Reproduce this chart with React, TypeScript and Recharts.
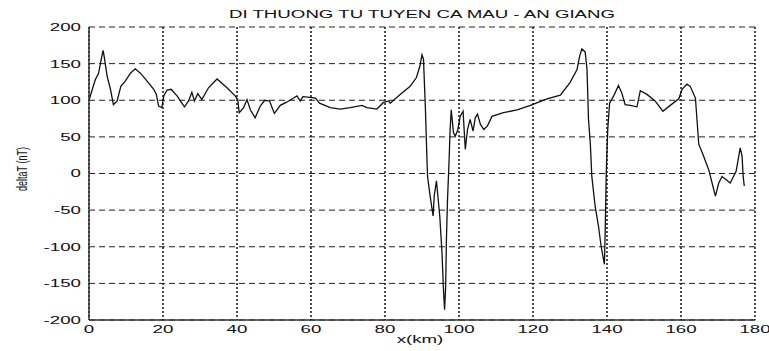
import React from "react";
import { LineChart, Line, XAxis, YAxis, CartesianGrid } from "recharts";

const xKm = [
  0, 0.9, 1.7, 2.6, 3.2, 3.8, 4.1, 4.9, 5.8, 6.6, 7.6, 8.6, 9.8, 11.2, 12.5, 13.9, 15.7, 17.5, 18.2, 18.8,
  19.7, 20.2, 21.1, 22.2, 23.8, 25.8, 26.9, 27.8, 28.5, 29.4, 30.5, 32.3, 34.6, 37.3, 39.5, 40.2, 40.6, 41.8,
  42.7, 43.6, 44.9, 46.3, 47.5, 48.8, 50.1, 51.7, 53.3, 55.3, 56.2, 57.1, 57.8, 59.8, 61.2, 62.3, 65.2, 67.9,
  70.6, 73.8, 75.1, 77.8, 79.6, 81.0, 81.4, 84.1, 86.8, 88.5, 89.4, 90.0, 90.4, 90.9, 91.2, 91.5, 92.2, 93.0,
  93.3, 93.9, 94.3, 94.8, 95.4, 95.8, 96.1, 96.4, 96.6, 96.9, 97.3, 97.6, 97.9, 98.5, 99.0, 99.7, 100.3, 101.1,
  101.7, 102.3, 103.0, 103.8, 104.4, 105.0, 105.8, 106.7, 107.7, 108.9, 112.0, 115.7, 119.3, 123.8, 127.4,
  130.0, 131.9, 132.6, 133.2, 134.1, 134.6, 135.0, 135.5, 135.9, 136.8, 137.7, 138.4, 138.9, 139.3, 139.5,
  139.8, 140.2, 140.7, 141.8, 143.1, 144.0, 144.9, 146.3, 148.1, 149.0, 150.8, 153.0, 155.1, 157.1, 159.4,
  160.3, 161.6, 162.5, 163.9, 164.8, 166.1, 167.5, 168.4, 169.3, 170.2, 171.1, 173.3, 174.9, 176.0, 176.5,
  176.8, 177.1,
];

const deltaT = [
  100, 115, 128, 137, 153, 168, 160, 133, 115, 94, 99, 119, 126, 137, 143, 137, 126, 115, 108, 92,
  90, 106, 114, 115, 106, 91, 99, 111, 99, 109, 101, 117, 129, 117, 106, 101, 83, 90,
  101, 87, 76, 92, 100, 99, 82, 93, 97, 103, 106, 99, 105, 104, 103, 96, 90, 88,
  90, 93, 90, 88, 97, 99, 96, 108, 119, 131, 146, 162, 156, 92, 42, -4, -31, -58,
  -31, -10, -31, -58, -108, -158, -186, -154, -90, -35, 15, 60, 87, 56, 51, 60, 78, 85,
  33, 60, 74, 58, 76, 81, 67, 60, 65, 78, 83, 87, 93, 102, 107,
  124, 142, 160, 170, 166, 142, 74, 40, -4, -45, -72, -99, -113, -124, -81,
  1, 60, 96, 106, 120, 110, 94, 93, 91, 113, 108, 99, 85, 93, 102,
  115, 122, 119, 103, 40, 24, 5, -13, -31, -13, -4, -13, 3, 35, 24,
  -4, -17,
];

const xTicks = [0, 20, 40, 60, 80, 100, 120, 140, 160, 180];
const yTicks = [-200, -150, -100, -50, 0, 50, 100, 150, 200];

const titleText = "DI THUONG TU TUYEN CA MAU - AN GIANG";
const xLabelText = "x(km)";
const yLabelText = "deltaT (nT)";

const data = xKm.map((x, i) => ({ x, v: deltaT[i] }));

const FONT = "'Liberation Sans', Arial, sans-serif";
const SX = 1.7;

const XTick = (props: any) => {
  const { x, y, payload } = props;
  return (
    <g transform={`translate(${x},${y}) scale(${SX},1)`}>
      <text x={0} y={0} dy="0.71em" textAnchor="middle" fontSize={11} fontFamily={FONT} fill="#111">
        {payload.value}
      </text>
    </g>
  );
};

const YTick = (props: any) => {
  const { x, y, payload } = props;
  return (
    <g transform={`translate(${x},${y}) scale(${SX},1)`}>
      <text x={0} y={0} dy="0.36em" textAnchor="end" fontSize={11} fontFamily={FONT} fill="#111">
        {payload.value}
      </text>
    </g>
  );
};

export default function App() {
  return (
    <div style={{ position: "absolute", left: 0, top: 0, width: 769, height: 351, background: "#fff" }}>
      <LineChart
        width={769}
        height={351}
        data={data}
        margin={{ top: 27, right: 14, left: 29, bottom: 11 }}
      >
        <CartesianGrid
          horizontal={true}
          vertical={false}
          stroke="#222"
          strokeDasharray="6 4"
          strokeWidth={1}
          xAxisId="b"
          yAxisId="l"
        />
        <CartesianGrid
          horizontal={false}
          vertical={true}
          stroke="#222"
          strokeDasharray="2 2"
          strokeWidth={1.6}
          xAxisId="b"
          yAxisId="l"
        />
        <XAxis
          xAxisId="b"
          dataKey="x"
          type="number"
          domain={[0, 180]}
          ticks={xTicks}
          interval={0}
          allowDataOverflow
          height={20}
          tickSize={0}
          tickMargin={5}
          tick={<XTick />}
          axisLine={{ stroke: "#333", strokeWidth: 1.5 }}
        />
        <XAxis
          xAxisId="t"
          orientation="top"
          dataKey="x"
          type="number"
          domain={[0, 180]}
          height={0}
          tick={false}
          tickLine={false}
          axisLine={{ stroke: "#444", strokeWidth: 1 }}
        />
        <YAxis
          yAxisId="l"
          type="number"
          domain={[-200, 200]}
          ticks={yTicks}
          interval={0}
          allowDataOverflow
          width={60}
          tickSize={0}
          tickMargin={8}
          tick={<YTick />}
          axisLine={{ stroke: "#333", strokeWidth: 1.5 }}
        />
        <YAxis
          yAxisId="r"
          orientation="right"
          type="number"
          domain={[-200, 200]}
          width={0}
          tick={false}
          tickLine={false}
          axisLine={{ stroke: "#444", strokeWidth: 1.5 }}
        />
        <Line
          xAxisId="b"
          yAxisId="l"
          type="linear"
          dataKey="v"
          stroke="#111"
          strokeWidth={1.3}
          dot={false}
          activeDot={false}
          isAnimationActive={false}
        />
      </LineChart>
      <svg
        width={769}
        height={351}
        style={{ position: "absolute", left: 0, top: 0, pointerEvents: "none" }}
      >
        <g transform={`translate(422,18) scale(${SX},1)`}>
          <text x={0} y={0} textAnchor="middle" fontSize={11} fontFamily={FONT} fill="#111">
            {titleText}
          </text>
        </g>
        <g transform={`translate(420,343) scale(${SX},1)`}>
          <text x={0} y={0} textAnchor="middle" fontSize={11} fontFamily={FONT} fill="#111">
            {xLabelText}
          </text>
        </g>
        <g transform={`translate(27,169) scale(${SX},1) rotate(-90)`}>
          <text x={0} y={0} textAnchor="middle" fontSize={9} fontFamily={FONT} fill="#111">
            {yLabelText}
          </text>
        </g>
      </svg>
    </div>
  );
}
